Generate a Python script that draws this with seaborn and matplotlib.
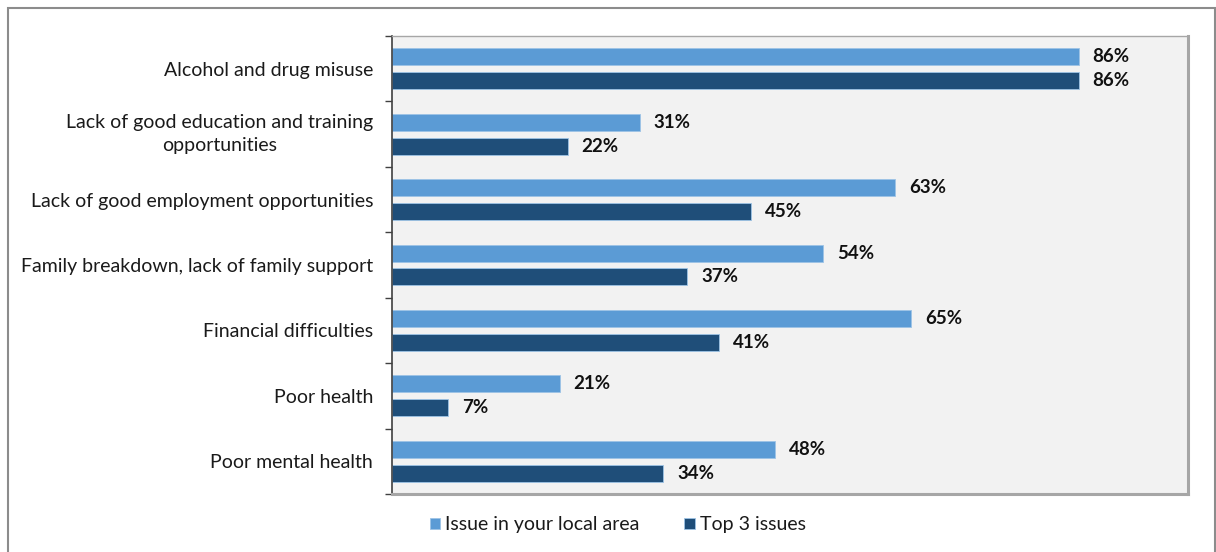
import matplotlib
matplotlib.use("Agg")
import matplotlib.pyplot as plt
from matplotlib.patches import Rectangle
from matplotlib.ticker import FixedLocator
import seaborn as sns
import pandas as pd

categories = [
    "Alcohol and drug misuse",
    "Lack of good education and training\nopportunities",
    "Lack of good employment opportunities",
    "Family breakdown, lack of family support",
    "Financial difficulties",
    "Poor health",
    "Poor mental health",
]
local_area = [86, 31, 63, 54, 65, 21, 48]
top3 = [86, 22, 45, 37, 41, 7, 34]
series_names = ["Issue in your local area", "Top 3 issues"]
colors = ["#5B9BD5", "#1F4E79"]

df = pd.DataFrame({
    "category": categories * 2,
    "value": local_area + top3,
    "series": [series_names[0]] * len(categories) + [series_names[1]] * len(categories),
})

sns.set_style("white")
plt.rcParams["font.family"] = ["Lato", "DejaVu Sans"]

fig = plt.figure(figsize=(12.16, 5.52), dpi=100)
ax = fig.add_axes([392 / 1216, 1 - 494 / 552, (1188 - 392) / 1216, (494 - 36) / 552])
ax.set_facecolor("#F2F2F2")

sns.barplot(data=df, y="category", x="value", hue="series", orient="h",
            palette=colors, saturation=1, width=0.73, gap=0.29, ax=ax,
            edgecolor="#9DC3E6", linewidth=0.6)

for cont in ax.containers:
    vals = [int(round(b.get_width())) for b in cont]
    ax.bar_label(cont, labels=[f"{v}%" for v in vals], padding=10,
                 fontsize=13.5, fontweight="bold", color="#111111")

ax.set_xlim(0, 99.7)
ax.set_ylim(6.5, -0.5)
ax.set_xlabel("")
ax.set_ylabel("")
ax.set_xticks([])

ax.tick_params(axis="y", which="major", length=0, pad=13.5, labelsize=14,
               labelcolor="#1a1a1a")
ax.yaxis.set_minor_locator(FixedLocator([i - 0.5 for i in range(len(categories) + 1)]))
ax.tick_params(axis="y", which="minor", length=5, width=1, color="#404040", direction="out")
ax.yaxis.set_tick_params(which="minor", left=True)

for lbl in ax.get_yticklabels():
    lbl.set_multialignment("center")
    lbl.set_linespacing(1.45)
    if "\n" in lbl.get_text():
        lbl.set_verticalalignment("center")

ax.spines["left"].set_color("#404040")
ax.spines["left"].set_linewidth(1.2)
for side in ("top", "right", "bottom"):
    ax.spines[side].set_visible(True)
    ax.spines[side].set_color("#A6A6A6")
ax.spines["top"].set_linewidth(1.0)
ax.spines["right"].set_linewidth(2.2)
ax.spines["bottom"].set_linewidth(2.2)

handles, labels = ax.get_legend_handles_labels()
ax.get_legend().remove()
fig.legend(handles, labels, loc="center", bbox_to_anchor=(0.508, 0.049), ncol=2,
           frameon=False, fontsize=14, handlelength=0.55, handleheight=0.55,
           handletextpad=0.25, columnspacing=2.3, labelcolor="#1a1a1a")

fig.patches.append(Rectangle((8 / 1216, -0.02), (1215 - 8) / 1216, (552 - 8) / 552 + 0.02,
                             transform=fig.transFigure, fill=False,
                             edgecolor="#8C8C8C", linewidth=1.5))

fig.savefig("out.png", dpi=100, facecolor="white")
